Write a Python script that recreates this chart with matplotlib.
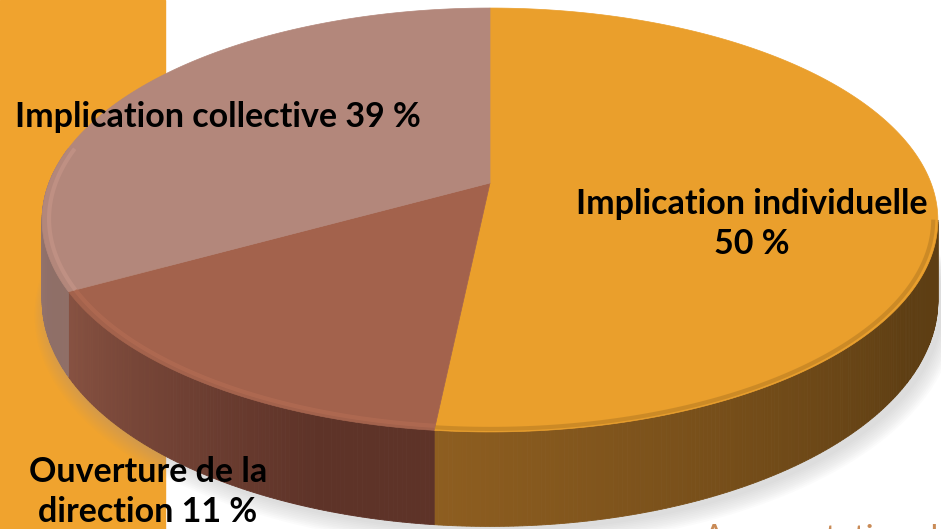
import numpy as np
import matplotlib
matplotlib.use('Agg')
import matplotlib.pyplot as plt
from matplotlib.patches import Polygon, Rectangle
from matplotlib.colors import to_rgb

# Data (clockwise from 12 o'clock)
labels = ['Implication individuelle\n50 %', 'Ouverture de la\ndirection 11 %', 'Implication collective 39 %']
values = [50, 11, 39]
top_colors = ['#EA9F2C', '#A3624C', '#B3877B']
side_left = ['#8E5E20', '#875242', '#9E7E77']
side_right = ['#5E3E13', '#5E3328', '#8F6F68']

W, H = 941, 529
# projected pie geometry (pixels)
cx, cy = 490, 183
A, B, K = 441, 205.5, 0.1745
THICK = 78

def proj(theta, z=0.0, r=1.0):
    u = r * np.cos(theta)
    v = r * np.sin(theta)
    d = 1 + K * v
    x = cx + A * u / d
    y = cy - B * v / d - z * THICK / d
    return x, y

def warp(t):
    # slight angular distortion of the 3D view (degrees, clockwise from top)
    tr = np.radians(t)
    return t - 25.3 * np.sin(tr) + 3.0 * (1 - np.cos(tr))

fig = plt.figure(figsize=(W / 100, H / 100), dpi=100)
ax = fig.add_axes([0, 0, 1, 1])
ax.set_xlim(0, W)
ax.set_ylim(H, 0)
ax.axis('off')

# background strip
ax.add_patch(Rectangle((0, 0), 165, H, color='#F0A32E', zorder=0))

# soft shadow
full = np.radians(np.linspace(0, 360, 361))
for i in range(10):
    xs, ys = proj(full, -1, 1.0 + 0.003 * i)
    ax.add_patch(Polygon(np.c_[xs + 5, ys + 5 + i * 0.8], closed=True,
                         color='#9A9A9A', alpha=0.035, lw=0, zorder=1))

cum = np.concatenate([[0], np.cumsum(values)]) / sum(values) * 360
starts = 90 - warp(cum[:-1])
ends = 90 - warp(cum[1:])
vis_lo, vis_hi = -180 - np.degrees(np.arcsin(K)), -np.degrees(np.arcsin(K))

def visible(s, e):
    s = (s + 180) % 360 - 180
    e = e if e < s else e - 360
    return max(e, vis_lo), min(s, vis_hi)

# side walls
for s, e, cl, cr in zip(starts, ends, side_left, side_right):
    lo, hi = visible(s, e)
    if hi <= lo:
        continue
    th = np.linspace(lo, hi, int((hi - lo) * 2) + 2)
    c0, c1 = np.array(to_rgb(cl)), np.array(to_rgb(cr))
    for a0, a1 in zip(th[:-1], th[1:]):
        seg = np.radians(np.linspace(a0, a1, 3))
        xt, yt = proj(seg, 0)
        xb, yb = proj(seg[::-1], -1)
        f = (0.5 * (a0 + a1) - lo) / (hi - lo)
        col = c0 + (c1 - c0) * np.clip(f * 1.3, 0, 1)
        ax.add_patch(Polygon(np.r_[np.c_[xt, yt], np.c_[xb, yb]], closed=True,
                             facecolor=col, edgecolor=col, lw=0.6, zorder=2))

# top faces
for s, e, c in zip(starts, ends, top_colors):
    th = np.radians(np.linspace(s, e, 200))
    xs, ys = proj(th, 0)
    pts = np.r_[[[cx, cy]], np.c_[xs, ys]]
    ax.add_patch(Polygon(pts, closed=True, facecolor=c, edgecolor=c, lw=0.5, zorder=3))

# bevel on the front rim
for i, (s, e, c) in enumerate(zip(starts, ends, top_colors)):
    lo, hi = visible(s, e)
    if hi <= lo:
        continue
    th = np.radians(np.linspace(lo, hi, 100))
    base = np.array(to_rgb(c))
    if i == 0:
        xs, ys = proj(th, 0, 0.99)
        ax.plot(xs, ys, color=base * 0.75, lw=3, alpha=0.5, solid_capstyle='butt', zorder=4)
    else:
        xs, ys = proj(th, 0, 0.985)
        ax.plot(xs, ys, color=np.clip(base * 1.15, 0, 1), lw=3, alpha=0.45,
                solid_capstyle='butt', zorder=4)

font = dict(family=['Lato', 'DejaVu Sans'], weight='bold', color='black', fontsize=24.5)
ax.text(15, 127, labels[2], ha='left', va='baseline', zorder=6, **font)
ax.text(752, 254, labels[0], ha='center', va='baseline', linespacing=1.3, zorder=6, **font)
ax.text(148, 522, labels[1], ha='center', va='baseline', linespacing=1.3, zorder=6, **font)
ax.text(703, 548, 'Augmentation de la', ha='left', va='baseline', color='#C98B57',
        fontsize=24, family=['Lato', 'DejaVu Sans'], zorder=6)

fig.savefig('out.png', dpi=100)
